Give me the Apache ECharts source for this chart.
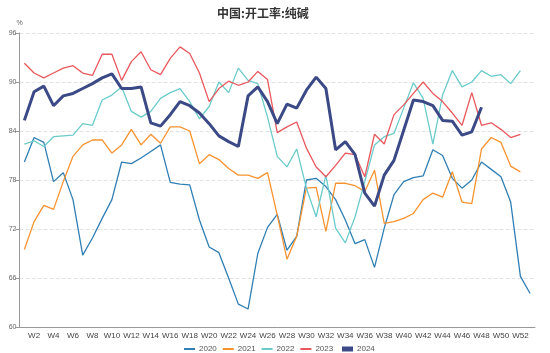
<!DOCTYPE html>
<html>
<head>
<meta charset="utf-8">
<script src="https://cdn.jsdelivr.net/npm/echarts@6/dist/echarts.min.js"></script>
<style>
  html, body { margin: 0; padding: 0; background: #fff; }
  #main { width: 550px; height: 353px; }
</style>
</head>
<body>
<div id="main"></div>
<script>
  // == 周次 ==
  const weeks = ['W1','W2','W3','W4','W5','W6','W7','W8','W9','W10','W11','W12','W13','W14','W15','W16','W17','W18','W19','W20',
    'W21','W22','W23','W24','W25','W26','W27','W28','W29','W30','W31','W32','W33','W34','W35','W36','W37','W38','W39','W40',
    'W41','W42','W43','W44','W45','W46','W47','W48','W49','W50','W51','W52','W53'];
  const yTicks = [60, 66, 72, 78, 84, 90, 96];

  // == 各年开工率 ==
  const y2020 = [80.2, 83.2, 82.6, 77.8, 78.9, 75.6, 68.8, 70.9, 73.3, 75.6, 80.2, 80.0, 80.7, 81.5, 82.3, 77.7, 77.5, 77.4, 73.1, 69.8,
    69.1, 66.0, 62.8, 62.2, 69.0, 72.2, 73.8, 69.4, 71.1, 78.0, 78.2, 77.2, 75.6, 73.1, 70.2, 70.7, 67.3, 72.1, 76.2, 77.8,
    78.3, 78.5, 81.7, 81.0, 78.2, 77.0, 78.0, 80.2, 79.3, 78.4, 75.3, 66.2, 64.1];
  const y2021 = [69.5, 72.9, 74.9, 74.4, 77.8, 80.9, 82.3, 82.9, 82.9, 81.3, 82.3, 84.2, 82.3, 83.6, 82.5, 84.5, 84.5, 84.0, 80.0, 81.1,
    80.5, 79.4, 78.6, 78.6, 78.2, 78.9, 73.7, 68.3, 71.1, 77.0, 77.1, 71.7, 77.6, 77.6, 77.3, 76.6, 79.2, 72.7, 72.9, 73.3,
    73.9, 75.6, 76.4, 75.9, 79.0, 75.3, 75.1, 81.8, 83.2, 82.6, 79.7, 79.0];
  const y2022 = [82.4, 82.8, 82.1, 83.3, 83.4, 83.5, 84.9, 84.7, 87.8, 88.4, 89.4, 86.4, 85.7, 86.4, 88.0, 88.7, 89.2, 87.6, 85.5, 87.0,
    90.0, 88.7, 91.7, 90.2, 89.8, 85.7, 80.9, 79.6, 81.8, 77.0, 73.5, 78.6, 72.1, 70.3, 73.5, 77.8, 82.3, 83.3, 83.7, 86.8,
    89.9, 88.0, 82.4, 88.4, 91.4, 89.4, 90.0, 91.4, 90.7, 90.9, 89.8, 91.4];
  const y2023 = [92.3, 91.1, 90.5, 91.1, 91.7, 92.0, 91.1, 90.8, 93.4, 93.4, 90.2, 92.5, 93.7, 91.5, 90.9, 92.9, 94.3, 93.5, 91.1, 87.6,
    89.2, 90.1, 89.6, 90.0, 91.3, 90.3, 83.8, 84.5, 85.1, 81.9, 79.6, 78.4, 79.8, 81.3, 81.1, 78.4, 83.6, 82.4, 86.0, 87.2,
    88.6, 90.0, 88.6, 87.6, 86.2, 84.7, 88.7, 84.7, 85.0, 84.2, 83.2, 83.6];
  const y2024 = [85.3, 88.8, 89.5, 87.1, 88.3, 88.6, 89.2, 89.8, 90.5, 91.0, 89.2, 89.2, 89.4, 85.0, 84.6, 86.0, 87.6, 87.1, 86.2, 84.9,
    83.4, 82.7, 82.1, 88.3, 89.4, 87.6, 84.9, 87.3, 86.8, 89.0, 90.6, 89.2, 81.7, 82.7, 81.1, 76.4, 74.8, 78.6, 80.4, 84.1,
    87.8, 87.6, 87.1, 85.3, 85.2, 83.5, 83.9, 86.9];

  const years = ['2020', '2021', '2022', '2023', '2024'];
  const colors = ['#2f7fb5', '#f7932f', '#6bcbcb', '#e8585c', '#3b4a86'];

  var myChart = echarts.init(document.getElementById('main'));

  function lineSeries(name, data, width) {
    return {
      name: name,
      type: 'line',
      data: data,
      showSymbol: false,
      symbol: 'none',
      lineStyle: { width: width },
      emphasis: { disabled: true },
    };
  }

  // == 图例 ==
  const legendBase = {
    top: 340,
    icon: 'rect',
    itemWidth: 11,
    itemGap: 6,
    textStyle: { fontSize: 8, color: '#555', fontFamily: 'Liberation Sans', padding: [0, 0, 0, -1] },
  };

  var option = {
    color: colors,
    animation: false,
    title: {
      text: '中国:开工率:纯碱',
      left: 212,
      top: 2,
      textStyle: { fontSize: 12, fontWeight: 'bold', color: '#333', fontFamily: 'Noto Sans CJK SC' },
    },
    legend: [
      Object.assign({}, legendBase, { data: years.slice(0, 4), left: 179, itemHeight: 2 }),
      Object.assign({}, legendBase, { data: years.slice(4), left: 337, itemHeight: 5 }),
    ],
    grid: {
      left: 19.5,
      right: 15,
      top: 33,
      bottom: 26,
    },
    xAxis: {
      type: 'category',
      data: weeks,
      boundaryGap: true,
      axisLine: { lineStyle: { color: '#999' } },
      axisTick: { interval: 0, length: 4, lineStyle: { color: '#999' } },
      axisLabel: {
        interval: (i) => i % 2 === 1,
        fontSize: 8,
        fontFamily: 'Liberation Sans',
        color: '#444',
        margin: 5,
      },
    },
    yAxis: {
      type: 'value',
      min: yTicks[0],
      max: yTicks[yTicks.length - 1],
      interval: 6,
      name: '%',
      nameGap: 6,
      nameTextStyle: { fontSize: 7, color: '#666', align: 'center', fontFamily: 'Liberation Sans' },
      axisLine: { show: true, lineStyle: { color: '#999' } },
      axisTick: { show: true, length: 4, lineStyle: { color: '#999' } },
      axisLabel: { fontSize: 7, color: '#666', margin: 3, fontFamily: 'Liberation Sans' },
      splitLine: { lineStyle: { color: '#e2e2e2', type: 'dashed' } },
    },
    series: [
      lineSeries('2020', y2020, 1.3),
      lineSeries('2021', y2021, 1.3),
      lineSeries('2022', y2022, 1.3),
      lineSeries('2023', y2023, 1.3),
      lineSeries('2024', y2024, 3),
    ],
  };

  option && myChart.setOption(option);
</script>
</body>
</html>
